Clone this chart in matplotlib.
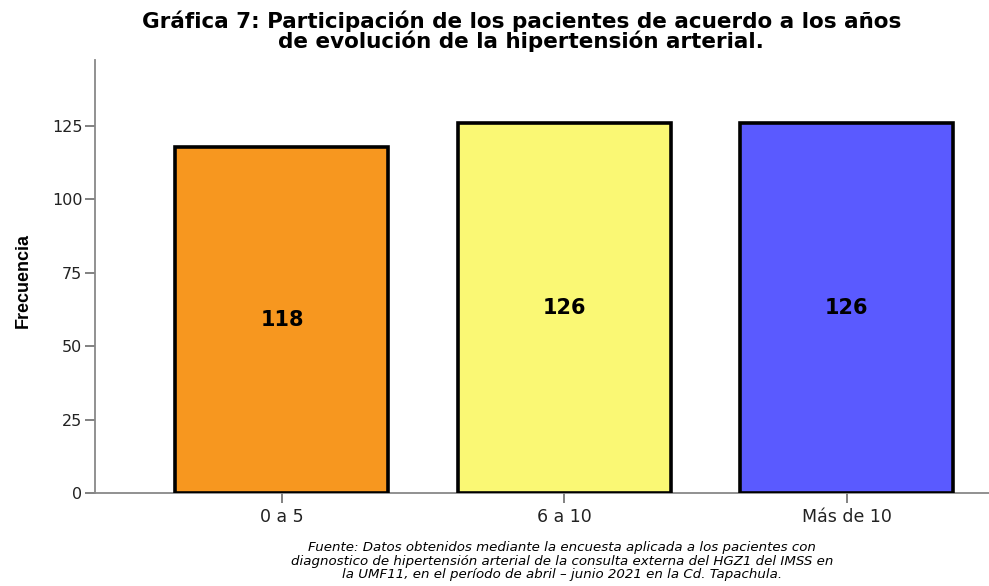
import matplotlib
matplotlib.use("Agg")
import matplotlib.pyplot as plt

# years of hypertension evolution vs number of patients
categories = ["0 a 5", "6 a 10", "Más de 10"]
counts = [118, 126, 126]
colors = ["#F7971F", "#FAF874", "#5A5AFF"]
yticks = [0, 25, 50, 75, 100, 125]

title_lines = ["Gráfica 7: Participación de los pacientes de acuerdo a los años",
               "de evolución de la hipertensión arterial."]
source_lines = ["Fuente: Datos obtenidos mediante la encuesta aplicada a los pacientes con",
                "diagnostico de hipertensión arterial de la consulta externa del HGZ1 del IMSS en",
                "la UMF11, en el período de abril – junio 2021 en la Cd. Tapachula."]

plt.rcParams['font.family'] = ['DejaVu Sans']

fig = plt.figure(figsize=(9.89, 5.86), dpi=100)
ax = fig.add_axes([0.096, 0.1587, 0.904, 0.739])

x = list(range(len(categories)))
ax.bar(x, counts, width=0.754, color=colors, edgecolor="black", linewidth=2.6, zorder=3)
for xi, c in zip(x, counts):
    ax.text(xi, c / 2, str(c), ha="center", va="center", fontsize=15, fontweight="bold", zorder=4)

ax.set_xlim(-0.662, 2.503)
ax.set_ylim(0, 147.5)
ax.set_xticks(x)
ax.set_xticklabels(categories, fontsize=12.5, color="#222222")
ax.set_yticks(yticks)
ax.set_yticklabels([str(v) for v in yticks], fontsize=11.5, color="#222222")
ax.tick_params(axis="both", color="#777777", length=7, width=1.3)
ax.tick_params(axis="x", pad=4)
ax.tick_params(axis="y", pad=2)

for s in ["top", "right"]:
    ax.spines[s].set_visible(False)
for s in ["left", "bottom"]:
    ax.spines[s].set_color("#888888")
    ax.spines[s].set_linewidth(1.3)

ax.set_ylabel("Frecuencia", fontsize=13, fontweight="bold",
              family=["Liberation Sans Narrow", "Liberation Sans", "DejaVu Sans"])
ax.yaxis.set_label_coords(-0.071, 0.49)

# title, one line at a time
for i, line in enumerate(title_lines):
    fig.text(0.527, 1 - (28 + 20 * i) / 586, line, ha="center", va="baseline",
             fontsize=15.5, fontweight="bold")

# source note under the chart
for i, line in enumerate(source_lines):
    fig.text(0.568, 1 - (551 + 13.5 * i) / 586, line, ha="center", va="baseline",
             fontsize=9.6, style="italic")

fig.savefig("out.png", dpi=100)
